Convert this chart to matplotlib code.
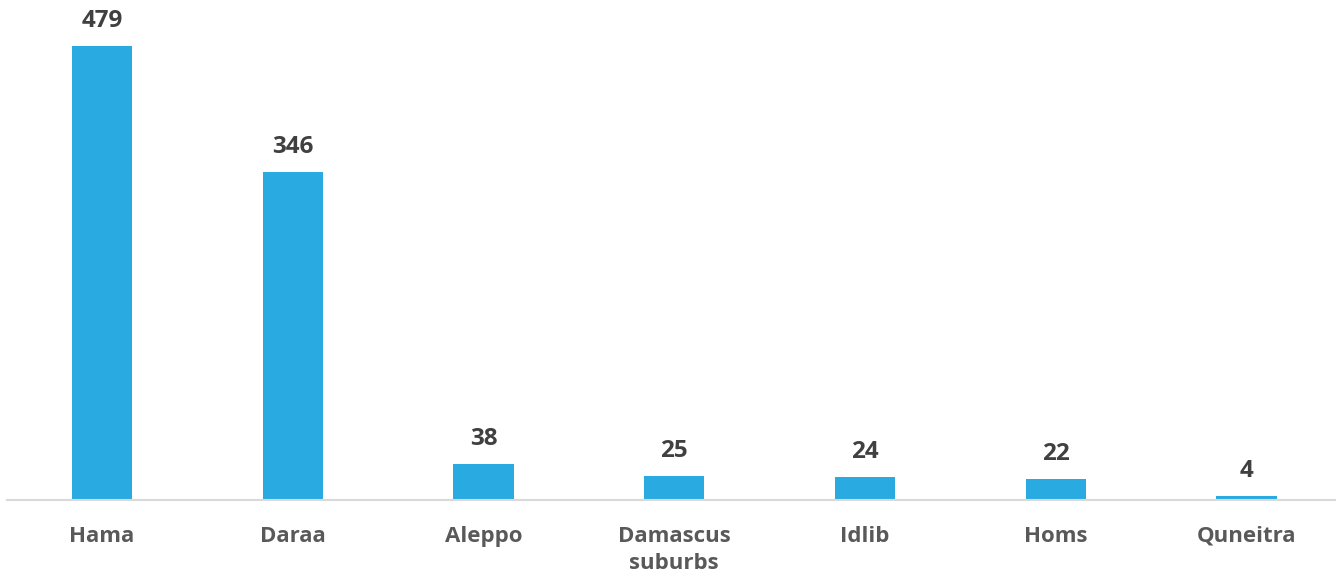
import matplotlib
matplotlib.use("Agg")
import matplotlib.pyplot as plt

# data
regions = ["Hama", "Daraa", "Aleppo", "Damascus\nsuburbs", "Idlib", "Homs", "Quneitra"]
counts = [479, 346, 38, 25, 24, 22, 4]

bar_color = "#29ABE2"
label_font = ["Open Sans", "DejaVu Sans"]

fig = plt.figure(figsize=(13.36, 5.8), dpi=100)
ax = fig.add_axes([6.6 / 1336, 80 / 580, 1335.3 / 1336, 500 / 580])

x = range(len(regions))
bars = ax.bar(x, counts, width=0.315, color=bar_color, zorder=2)

for rect, val in zip(bars, counts):
    ax.annotate(str(val), (rect.get_x() + rect.get_width() / 2, rect.get_height()),
                xytext=(0, 13.7), textcoords="offset points", ha="center", va="baseline",
                fontsize=17.5, fontweight="bold", color="#404040", family=label_font)

ax.set_xlim(-0.5, len(regions) - 0.5)
ax.set_ylim(0, 527.5)
ax.set_xticks(list(x))
ax.set_xticklabels(regions, fontsize=16, fontweight="bold", color="#595959",
                   family=label_font, linespacing=1.4)
ax.tick_params(axis="x", length=0, pad=18.5)
ax.set_yticks([])

for side in ["top", "right", "left"]:
    ax.spines[side].set_visible(False)
ax.spines["bottom"].set_color("#d9d9d9")
ax.spines["bottom"].set_linewidth(1.5)

fig.savefig("out.png", dpi=100)
